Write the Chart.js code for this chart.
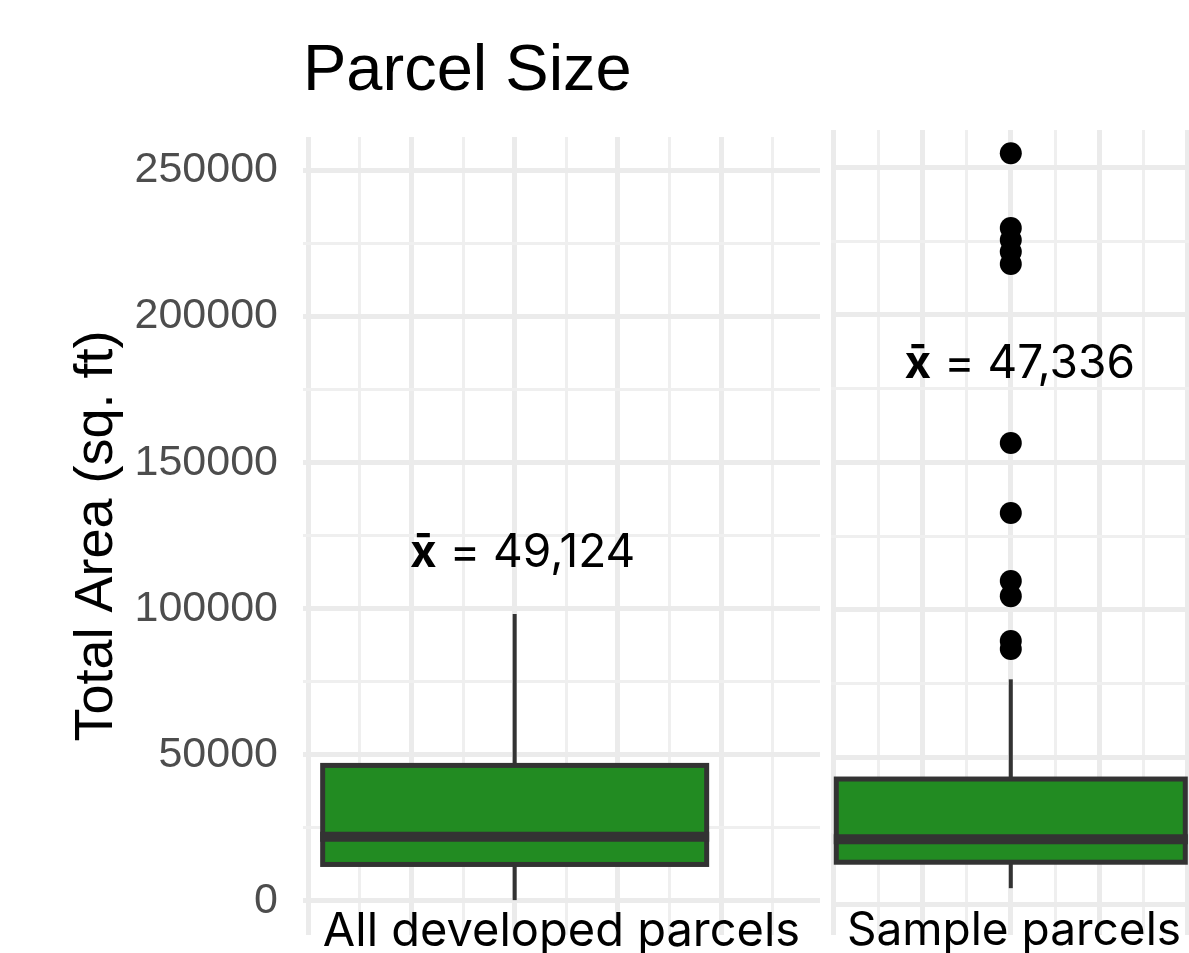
<!DOCTYPE html>
<html>
<head>
<meta charset="utf-8">
<script src="https://cdn.jsdelivr.net/npm/chart.js@4"></script>
<style>
  html, body { margin: 0; padding: 0; background: #fff; overflow: hidden; width: 1189px; height: 953px; }
  canvas { position: absolute; }
  #left { left: 0; top: 0; }
  #right { left: 820px; top: -3px; }
</style>
</head>
<body>
<canvas id="left" width="820" height="1000"></canvas>
<canvas id="right" width="388" height="1000"></canvas>
<script>
// box plot stats
const categories = ['All developed parcels', 'Sample parcels'];
const whiskerLow = [300, 5700];
const q1 = [12500, 14500];
const median = [22000, 22300];
const q3 = [46400, 42700];
const whiskerHigh = [98200, 76500];
const means = [49124, 47336];
const outliers = [
  [],
  [254800, 229500, 225400, 221400, 217300, 156600, 132900, 109800, 104700, 89500, 86800]
];
const yGrid = [0, 25000, 50000, 75000, 100000, 125000, 150000, 175000, 200000, 225000, 250000];
const yLabels = [0, 50000, 100000, 150000, 200000, 250000];
const xGrid = [
  [0, 1, 2, 3, 4, 5, 6, 7, 8, 9],
  [0, 1, 2, 3, 4, 5, 6, 7, 8]
];
const boxX = 4;

const green = '#228B22';
const dark = '#333333';

// outline, median bar and mean label on top of the box
const boxDetails = {
  id: 'boxDetails',
  afterDatasetsDraw(chart, args, opts) {
    const { ctx, scales: { y } } = chart;
    const i = opts.index;
    const bar = chart.getDatasetMeta(0).data[0];
    const left = bar.x - bar.width / 2;
    const right = bar.x + bar.width / 2;
    const top = y.getPixelForValue(q3[i]);
    const bottom = y.getPixelForValue(q1[i]);
    ctx.save();
    ctx.strokeStyle = dark;
    ctx.lineWidth = 5;
    ctx.strokeRect(left, top, right - left, bottom - top);
    const my = y.getPixelForValue(median[i]);
    ctx.lineWidth = 10;
    ctx.beginPath();
    ctx.moveTo(left - 2.5, my);
    ctx.lineTo(right + 2.5, my);
    ctx.stroke();

    const sym = 'x\u0304';
    const rest = ' = ' + means[i].toLocaleString('en-US');
    const size = opts.fontSize;
    ctx.fillStyle = '#000';
    ctx.textBaseline = 'alphabetic';
    ctx.textAlign = 'left';
    ctx.font = 'bold ' + size + 'px Inter';
    const w1 = ctx.measureText(sym).width;
    ctx.font = size + 'px Inter';
    const w2 = ctx.measureText(rest).width;
    const sx = bar.x + opts.dx - (w1 + w2) / 2;
    const sy = y.getPixelForValue(opts.labelY);
    ctx.font = 'bold ' + size + 'px Inter';
    ctx.fillText(sym, sx, sy);
    ctx.font = size + 'px Inter';
    ctx.fillText(rest, sx + w1, sy);
    ctx.restore();
  }
};

function gridColor(major) { return major ? '#ebebeb' : '#efefef'; }

function makePanel(id, i, p) {
  const datasets = [
    {
      type: 'bar',
      data: [{ x: boxX, y: [q1[i], q3[i]] }],
      backgroundColor: green,
      borderWidth: 0,
      barThickness: p.boxWidth,
      grouped: false,
      inflateAmount: 0
    },
    {
      type: 'bar',
      data: [{ x: boxX, y: [q3[i], whiskerHigh[i]] }],
      backgroundColor: dark,
      borderWidth: 0,
      barThickness: 4,
      grouped: false,
      inflateAmount: 0
    },
    {
      type: 'bar',
      data: [{ x: boxX, y: [whiskerLow[i], q1[i]] }],
      backgroundColor: dark,
      borderWidth: 0,
      barThickness: 4,
      grouped: false,
      inflateAmount: 0
    },
    {
      type: 'scatter',
      data: outliers[i].map(v => ({ x: boxX, y: v })),
      backgroundColor: '#000',
      borderWidth: 0,
      pointRadius: 11,
      pointHoverRadius: 11
    }
  ];

  new Chart(document.getElementById(id), {
    data: { datasets },
    plugins: [boxDetails],
    options: {
      responsive: false,
      animation: false,
      events: [],
      layout: { padding: { top: p.padTop, left: 0, right: 0, bottom: 0 } },
      scales: {
        x: {
          type: 'linear',
          min: p.xMin,
          max: p.xMax,
          offset: false,
          afterBuildTicks: s => { s.ticks = xGrid[i].map(v => ({ value: v })); },
          afterFit: s => { s.height = p.xHeight; },
          ticks: { display: false },
          border: { display: false },
          grid: {
            offset: false,
            drawTicks: false,
            color: c => gridColor(c.tick.value % 2 === 0),
            lineWidth: c => (c.tick.value % 2 === 0 ? 5 : 3)
          },
          title: {
            display: true,
            text: categories[i],
            color: '#000',
            font: { family: 'Inter', size: p.catSize },
            padding: { top: 0, bottom: p.xTitlePad }
          }
        },
        y: {
          type: 'linear',
          min: p.yMin,
          max: p.yMax,
          afterBuildTicks: s => { s.ticks = yGrid.map(v => ({ value: v })); },
          afterFit: s => { s.width = p.yWidth; },
          border: { display: false },
          grid: {
            drawTicks: false,
            color: c => gridColor(c.tick.value % 50000 === 0),
            lineWidth: c => (c.tick.value % 50000 === 0 ? 5 : 3)
          },
          ticks: {
            display: p.showY,
            autoSkip: false,
            padding: 25,
            color: '#4d4d4d',
            font: { family: 'Liberation Sans', size: 43 },
            callback: v => (yLabels.includes(v) ? String(v) : '')
          },
          title: {
            display: p.showY,
            text: 'Total Area (sq. ft)',
            color: '#000',
            font: { family: 'Liberation Sans', size: 54 },
            padding: { top: 65, bottom: 0 }
          }
        }
      },
      plugins: {
        legend: { display: false },
        tooltip: { enabled: false },
        title: {
          display: p.showTitle,
          text: 'Parcel Size',
          align: 'start',
          fullSize: false,
          color: '#000',
          font: { family: 'Liberation Sans', size: 65, weight: 'normal' },
          padding: { top: 33, bottom: 26 }
        },
        boxDetails: { index: i, dx: p.labelDx, labelY: p.labelY, fontSize: p.meanSize }
      }
    }
  });
}

makePanel('left', 0, {
  showY: true, showTitle: true, padTop: 0,
  yWidth: 303, xHeight: 65, xTitlePad: 40, catSize: 47,
  xMin: -0.097, xMax: 9.91,
  yMin: -11640, yMax: 261460,
  boxWidth: 384, labelDx: 8, labelY: 114300, meanSize: 46
});

makePanel('right', 1, {
  showY: false, showTitle: false, padTop: 133,
  yWidth: 0, xHeight: 62, xTitlePad: 38, catSize: 46,
  xMin: -0.064, xMax: 8.209,
  yMin: -10170, yMax: 262710,
  boxWidth: 349, labelDx: 9, labelY: 178600, meanSize: 46
});
</script>
</body>
</html>
